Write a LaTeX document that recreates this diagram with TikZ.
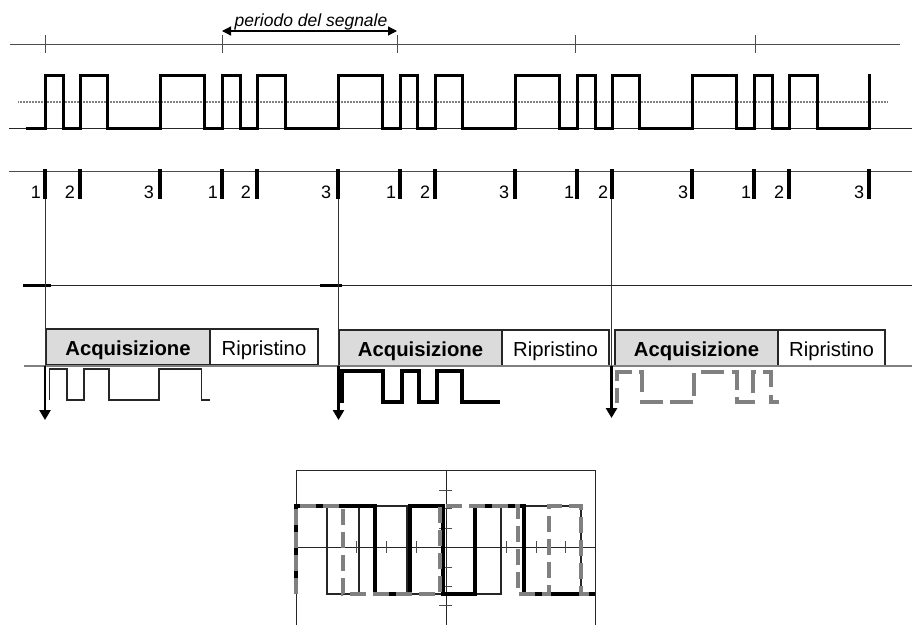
\documentclass[tikz,border=0pt]{standalone}
\usepackage{fontspec}
\setmainfont{Liberation Sans}
\usetikzlibrary{arrows.meta}
\definecolor{dgray}{gray}{0.3}
\definecolor{mgray}{gray}{0.5}
\definecolor{boxfill}{gray}{0.86}
\tikzset{
 x=1pt,y=-1pt,
 axisline/.style={line width=1pt,black!85},
 graytick/.style={line width=1pt,dgray},
 sigline/.style={line width=3pt,black,line join=miter},
 pulse/.style={line width=3.2pt,black},
 droplbl/.style={line width=1pt,black!80},
 arrowline/.style={line width=2.6pt,-{Triangle[width=11pt,length=10pt]}},
 num/.style={font=\fontsize{18}{20}\selectfont,anchor=base,inner sep=0pt},
 acq/.style={draw=black!85,line width=1.2pt,fill=boxfill,minimum height=36pt,inner sep=0pt,font=\fontsize{20.3}{24}\selectfont\bfseries,text height=17pt,text depth=0pt},
 rip/.style={draw=black!85,line width=1.2pt,fill=white,minimum height=36pt,inner sep=0pt,font=\fontsize{20.3}{24}\selectfont,text height=17pt,text depth=0pt},
 thintrace/.style={line width=1.4pt,black!85},
 thicktrace/.style={line width=3.3pt,black},
 dashtrace/.style={line width=3.4pt,mgray,dash pattern=on 16pt off 7pt},
 scopeline/.style={line width=0.95pt,black!85},
}
\begin{document}
\begin{tikzpicture}
\useasboundingbox (0,0) rectangle (912,625);
% period timeline
\coordinate (t0l) at (10,44); \coordinate (t0r) at (900,44);
\draw[graytick] (t0l) -- (t0r);
\foreach \x in {45,222,397,575,755} \draw[graytick] (\x,35) -- (\x,53);
\coordinate (pa) at (222,31); \coordinate (pb) at (397,31);
\draw[line width=1.3pt,{Triangle[width=9pt,length=9pt]}-{Triangle[width=9pt,length=9pt]}] (pa) -- (pb);
\node[font=\fontsize{17.5}{20}\selectfont\itshape,anchor=base,inner sep=0pt] (plabel) at (311,26.5) {periodo del segnale};
% threshold and baseline
\draw[line width=1.4pt,mgray,dash pattern=on 1pt off 0.5pt] (18,102) -- (887,102);
\draw[axisline] (9,128) -- (912,128);
% signal
\draw[sigline] (26,128) -- (45,128) -- (45,75) -- (63,75) -- (63,128) -- (80,128) -- (80,75) -- (107,75) -- (107,128)
 -- (160,128) -- (160,75) -- (204,75) -- (204,128) -- (222,128) -- (222,75) -- (240,75) -- (240,128) -- (257,128) -- (257,75) -- (285,75) -- (285,128)
 -- (338,128) -- (338,75) -- (382,75) -- (382,128) -- (400,128) -- (400,75) -- (417,75) -- (417,128) -- (435,128) -- (435,75) -- (462,75) -- (462,128)
 -- (515,128) -- (515,75) -- (559,75) -- (559,128) -- (577,128) -- (577,75) -- (595,75) -- (595,128) -- (612,128) -- (612,75) -- (639,75) -- (639,128)
 -- (692,128) -- (692,75) -- (736,75) -- (736,128) -- (754,128) -- (754,75) -- (772,75) -- (772,128) -- (789,128) -- (789,75) -- (817,75) -- (817,128)
 -- (869,128) -- (869,74);
% pulses
\draw[line width=1pt,dgray] (9,171) -- (912,171);
\foreach \x in {45,80,160,222,257,338,400,435,515,577,612,692,754,789,869} \draw[pulse] (\x,169) -- (\x,199);
\foreach \x/\t in {36/1,70/2,149/3,213/1,246/2,326/3,391/1,425/2,504/3,569/1,603/2,683/3,746/1,779/2,859/3}
  \node[num] (n\x) at (\x,198) {\t};
% gate line
\draw[axisline] (23,285.5) -- (912,285.5);
\draw[line width=2.6pt] (23,285.5) -- (51,285.5);
\draw[line width=2.6pt] (320,285.5) -- (342,285.5);
% boxes
\node[acq,minimum width=164pt] (a1) at (128,347) {Acquisizione};
\node[rip,minimum width=108pt] (r1) at (264,347) {Ripristino};
\node[acq,minimum width=163pt] (a2) at (420.5,348) {Acquisizione};
\node[rip,minimum width=107pt] (r2) at (555.5,348) {Ripristino};
\node[acq,minimum width=163pt] (a3) at (696.5,348) {Acquisizione};
\node[rip,minimum width=107pt] (r3) at (831.5,348) {Ripristino};
\draw[line width=1.1pt,mgray] (24,366) -- (912,366);
% drop lines
\coordinate (d1) at (45,199); \coordinate (d1m) at (45,366); \coordinate (e1) at (45,420);
\coordinate (d2) at (338.5,199); \coordinate (d2m) at (338.5,366); \coordinate (e2) at (338.5,420);
\coordinate (d3) at (611.5,199); \coordinate (d3m) at (611.5,366); \coordinate (e3) at (611.5,418);
\draw[droplbl] (d1) -- (d1m);
\draw[droplbl] (d2) -- (d2m);
\draw[droplbl] (d3) -- (d3m);
\draw[arrowline] (d1m) -- (e1);
\draw[arrowline] (d2m) -- (e2);
\draw[arrowline] (d3m) -- (e3);
% acquired traces
\draw[thintrace] (49.5,400) -- (49.5,369) -- (67,369) -- (67,400) -- (84,400) -- (84,369) -- (109,369) -- (109,400) -- (159,400) -- (159,369) -- (201.5,369) -- (201.5,400) -- (210,400);
\draw[line width=3.3pt] (342,403) -- (342,371) -- (383,371) -- (383,402) -- (402,402) -- (402,371) -- (419,371) -- (419,402) -- (437,402) -- (437,371) -- (462,371) -- (462,402) -- (500,402);
\draw[line width=3.4pt,mgray,dash pattern=on 23pt off 7.5pt,dash phase=8pt] (617,403) -- (617,372) -- (642,372) -- (642,402) -- (694,402) -- (694,372) -- (737,372) -- (737,402) -- (753,402) -- (753,372) -- (771,372) -- (771,402) -- (779,402);
% scope
\draw[scopeline] (296,625) -- (296,470) -- (595,470) -- (595,625);
\draw[scopeline] (446,470) -- (446,625);
\draw[scopeline] (296,547) -- (595,547);
\foreach \y in {490,508,528,567,586,605} \draw[scopeline,dgray] (439,\y) -- (452,\y);
\foreach \x in {326,356,386,416,506,536,565} \draw[scopeline,dgray] (\x,541) -- (\x,553);
\draw[thintrace] (296,594) -- (296,506) -- (327,506) -- (327,594) -- (359,594) -- (359,506) -- (407,506) -- (407,594) -- (501,594) -- (501,506) -- (581,506) -- (581,594) -- (595,594);
\draw[thicktrace] (296,594) -- (296,506) -- (375,506) -- (375,594) -- (410,594) -- (410,506) -- (443,506) -- (443,594) -- (475,594) -- (475,506) -- (524,506) -- (524,594) -- (595,594);
\draw[dashtrace] (296,594) -- (296,506) -- (343,506) -- (343,594) -- (440,594) -- (440,506) -- (518,506) -- (518,594) -- (549,594) -- (549,506) -- (581,506) -- (581,594) -- (595,594);
\end{tikzpicture}
\end{document}
